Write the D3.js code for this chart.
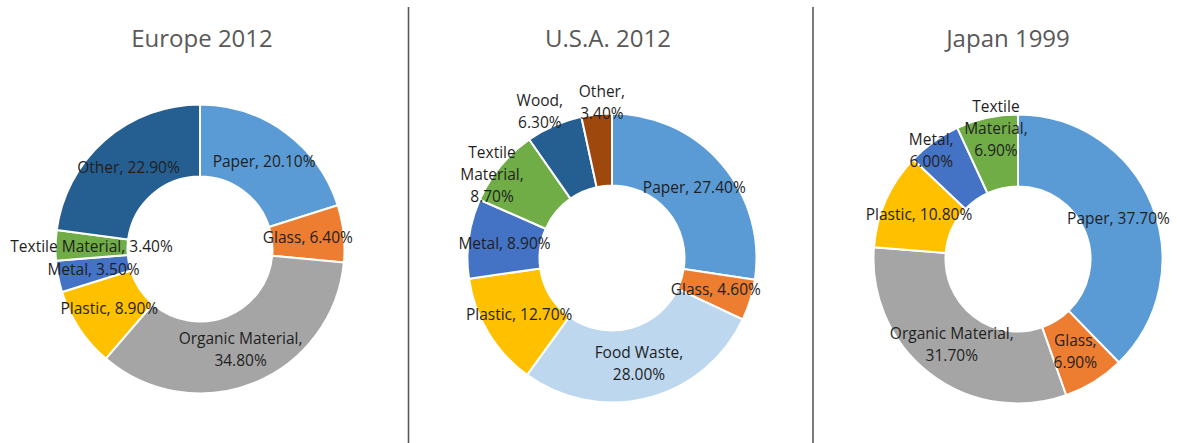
<!DOCTYPE html>
<html>
<head>
<meta charset="utf-8">
<script src="https://cdn.jsdelivr.net/npm/d3@7"></script>
<style>
  html, body { margin: 0; padding: 0; background: #fff; }
  svg { display: block; }
  .title { font-family: "Open Sans", sans-serif; font-size: 24px; fill: #595959; }
  .lbl { font-family: "Open Sans", sans-serif; font-size: 15.5px; fill: #1f1f1f; }
</style>
</head>
<body>
<svg id="chart" width="1177" height="443"></svg>
<script>
// Municipal solid waste composition (% of total)
const europeCategories = ["Paper", "Glass", "Organic Material", "Plastic", "Metal", "Textile Material", "Other"];
const europeValues     = [20.1, 6.4, 34.8, 8.9, 3.5, 3.4, 22.9];

const usaCategories = ["Paper", "Glass", "Food Waste", "Plastic", "Metal", "Textile Material", "Wood", "Other"];
const usaValues     = [27.4, 4.6, 28.0, 12.7, 8.9, 8.7, 6.3, 3.4];

const japanCategories = ["Paper", "Glass", "Organic Material", "Plastic", "Metal", "Textile Material"];
const japanValues     = [37.7, 6.9, 31.7, 10.8, 6.0, 6.9];

const panelTitles = ["Europe 2012", "U.S.A. 2012", "Japan 1999"];

// Slice colours by category
const categoryColor = {
  "Paper": "#5B9BD5",
  "Glass": "#ED7D31",
  "Organic Material": "#A5A5A5",
  "Food Waste": "#BDD7EE",
  "Plastic": "#FFC000",
  "Metal": "#4472C4",
  "Textile Material": "#70AD47",
  "Wood": "#255E91",
  "Other": "#255E91"
};

// Layout of each panel: ring centre, title x, how many lines each label uses,
// and label placements pulled outside the ring (radius, angle shift in degrees)
const panels = [
  { title: panelTitles[0], cats: europeCategories, vals: europeValues,
    cx: 200, cy: 249, titleX: 202,
    wrap: [1, 1, 2, 1, 1, 1, 1], nudge: {}, colors: {} },
  { title: panelTitles[1], cats: usaCategories, vals: usaValues,
    cx: 612, cy: 258, titleX: 608,
    wrap: [1, 1, 2, 1, 1, 3, 2, 2],
    nudge: { 5: [146, -4.7], 6: [163, -2.7], 7: [156, 2.4] },
    colors: { 7: "#9E480E" } },
  { title: panelTitles[2], cats: japanCategories, vals: japanValues,
    cx: 1018, cy: 259, titleX: 1008,
    wrap: [1, 2, 2, 1, 2, 3],
    nudge: { 4: [139, -3.0], 5: [132, 2.8] }, colors: {} }
];

const outerR = 144.5, innerR = 72.5, lineH = 22;

const svg = d3.select("#chart");

// separators between panels
[408.5, 813].forEach(x => {
  svg.append("line")
    .attr("x1", x).attr("x2", x).attr("y1", 7).attr("y2", 443)
    .attr("stroke", "#595959").attr("stroke-width", 1.6);
});

const pie = d3.pie().sort(null).value(d => d.value);
const arc = d3.arc().innerRadius(innerR).outerRadius(outerR);

function labelLines(name, value, mode) {
  const pct = value.toFixed(2) + "%";
  if (mode === 1) return [name + ", " + pct];
  if (mode === 2) return [name + ",", pct];
  const words = name.split(" ");
  return [words[0], words.slice(1).join(" ") + ",", pct];
}

panels.forEach(p => {
  const data = p.cats.map((c, i) => ({ name: c, value: p.vals[i], idx: i }));
  const arcs = pie(data);

  svg.append("text").attr("class", "title")
    .attr("x", p.titleX).attr("y", 47)
    .attr("text-anchor", "middle")
    .text(p.title);

  const g = svg.append("g").attr("transform", `translate(${p.cx},${p.cy})`);

  g.selectAll("path").data(arcs).join("path")
    .attr("d", arc)
    .attr("fill", d => p.colors[d.data.idx] || categoryColor[d.data.name])
    .attr("stroke", "#fff")
    .attr("stroke-width", 2)
    .attr("stroke-linejoin", "round");

  arcs.forEach(d => {
    let [x, y] = arc.centroid(d);
    const n = p.nudge[d.data.idx];
    if (n) {
      const a = (d.startAngle + d.endAngle) / 2 + n[1] * Math.PI / 180;
      x = n[0] * Math.sin(a);
      y = -n[0] * Math.cos(a);
    }
    const lines = labelLines(d.data.name, d.data.value, p.wrap[d.data.idx]);
    const t = g.append("text").attr("class", "lbl").attr("text-anchor", "middle");
    lines.forEach((ln, i) => {
      t.append("tspan")
        .attr("x", x)
        .attr("y", y + (i - (lines.length - 1) / 2) * lineH)
        .attr("dy", "0.35em")
        .text(ln);
    });
  });
});
</script>
</body>
</html>
